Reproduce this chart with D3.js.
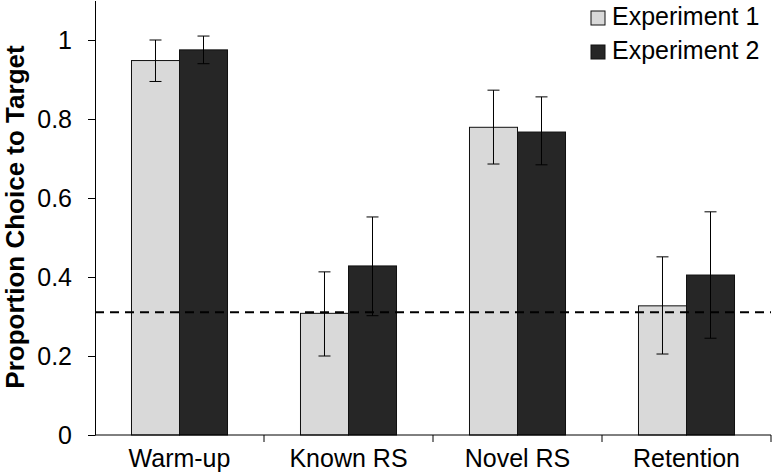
<!DOCTYPE html>
<html>
<head>
<meta charset="utf-8">
<script src="https://cdn.jsdelivr.net/npm/d3@7"></script>
<style>
  body { margin: 0; background: #fff; }
  text { font-family: "Liberation Sans", Arial, sans-serif; }
</style>
</head>
<body>
<div id="chart"></div>
<script>
// data
const categories = ['Warm-up', 'Known RS', 'Novel RS', 'Retention']
const seriesNames = ['Experiment 1', 'Experiment 2']
const exp1 = [0.948, 0.308, 0.779, 0.327]
const exp1Lo = [0.895, 0.200, 0.686, 0.205]
const exp1Hi = [1.000, 0.413, 0.873, 0.451]
const exp2 = [0.975, 0.428, 0.767, 0.405]
const exp2Lo = [0.940, 0.302, 0.684, 0.245]
const exp2Hi = [1.010, 0.552, 0.856, 0.565]
const yTicks = [0, 0.2, 0.4, 0.6, 0.8, 1]
const chanceLevel = 0.311

// canvas
const width = 774,
  height = 474,
  plotLeft = 95,
  plotRight = 771,
  plotTop = 0,
  plotBottom = 435

const colors = ['#d9d9d9', '#262626']

const svg = d3.select('#chart')
  .append('svg')
  .attr('width', width)
  .attr('height', height)

const x = d3.scaleBand()
  .domain(categories)
  .range([plotLeft, plotRight])

const xSeries = d3.scaleBand()
  .domain(seriesNames)
  .range([0, x.bandwidth()])
  .paddingOuter(0.76)
  .paddingInner(0)

const y = d3.scaleLinear()
  .domain([0, 1.1])
  .range([plotBottom, plotTop + 0.5])

// bars
const series = [
  { name: seriesNames[0], vals: exp1, lo: exp1Lo, hi: exp1Hi, color: colors[0] },
  { name: seriesNames[1], vals: exp2, lo: exp2Lo, hi: exp2Hi, color: colors[1] }
]

series.forEach(s => {
  svg.append('g')
    .selectAll('rect')
    .data(s.vals)
    .enter()
    .append('rect')
    .attr('x', (d, i) => x(categories[i]) + xSeries(s.name))
    .attr('y', d => y(d))
    .attr('width', xSeries.bandwidth())
    .attr('height', d => plotBottom - y(d))
    .attr('fill', s.color)
    .attr('stroke', '#111')
    .attr('stroke-width', 1)
})

// chance line
svg.append('line')
  .attr('x1', plotLeft)
  .attr('x2', plotRight)
  .attr('y1', y(chanceLevel))
  .attr('y2', y(chanceLevel))
  .attr('stroke', '#000')
  .attr('stroke-width', 2)
  .attr('stroke-dasharray', '9,6')

// error bars
series.forEach(s => {
  const g = svg.append('g').attr('stroke', '#000').attr('stroke-width', 1)
  s.vals.forEach((d, i) => {
    const cx = x(categories[i]) + xSeries(s.name) + xSeries.bandwidth() / 2
    g.append('line').attr('x1', cx).attr('x2', cx).attr('y1', y(s.lo[i])).attr('y2', y(s.hi[i]))
    g.append('line').attr('x1', cx - 6).attr('x2', cx + 6).attr('y1', y(s.lo[i])).attr('y2', y(s.lo[i]))
    g.append('line').attr('x1', cx - 6).attr('x2', cx + 6).attr('y1', y(s.hi[i])).attr('y2', y(s.hi[i]))
  })
})

// y axis
const yAxis = d3.axisLeft(y)
  .tickValues(yTicks)
  .tickFormat(d3.format('~g'))
  .tickSize(7)
  .tickSizeOuter(0)

const gy = svg.append('g')
  .attr('transform', `translate(${plotLeft},0)`)
  .call(yAxis)
gy.selectAll('text')
  .attr('font-size', 25)
  .attr('fill', '#000')
  .attr('x', -23)
gy.selectAll('line, path').attr('stroke', '#000')

// x axis
const gx = svg.append('g')
  .attr('transform', `translate(0,${plotBottom})`)
gx.append('line')
  .attr('x1', plotLeft).attr('x2', plotRight)
  .attr('stroke', '#000')
gx.selectAll('.tk')
  .data(categories)
  .enter()
  .append('line')
  .attr('x1', d => x(d) + x.bandwidth())
  .attr('x2', d => x(d) + x.bandwidth())
  .attr('y1', 0)
  .attr('y2', 7)
  .attr('stroke', '#000')
gx.selectAll('text')
  .data(categories)
  .enter()
  .append('text')
  .attr('x', d => x(d) + x.bandwidth() / 2)
  .attr('y', 32)
  .attr('text-anchor', 'middle')
  .attr('font-size', 25)
  .text(d => d)

// y title
svg.append('text')
  .attr('transform', 'translate(24,217) rotate(-90)')
  .attr('text-anchor', 'middle')
  .attr('font-size', 26)
  .attr('font-weight', 'bold')
  .text('Proportion Choice to Target')

// legend
const legend = svg.append('g')
  .attr('transform', 'translate(591,11)')
series.forEach((s, i) => {
  legend.append('rect')
    .attr('x', 0)
    .attr('y', i * 34)
    .attr('width', 14)
    .attr('height', 14)
    .attr('fill', s.color)
    .attr('stroke', '#111')
  legend.append('text')
    .attr('x', 21)
    .attr('y', i * 34 + 14)
    .attr('font-size', 25)
    .text(s.name)
})
</script>
</body>
</html>
